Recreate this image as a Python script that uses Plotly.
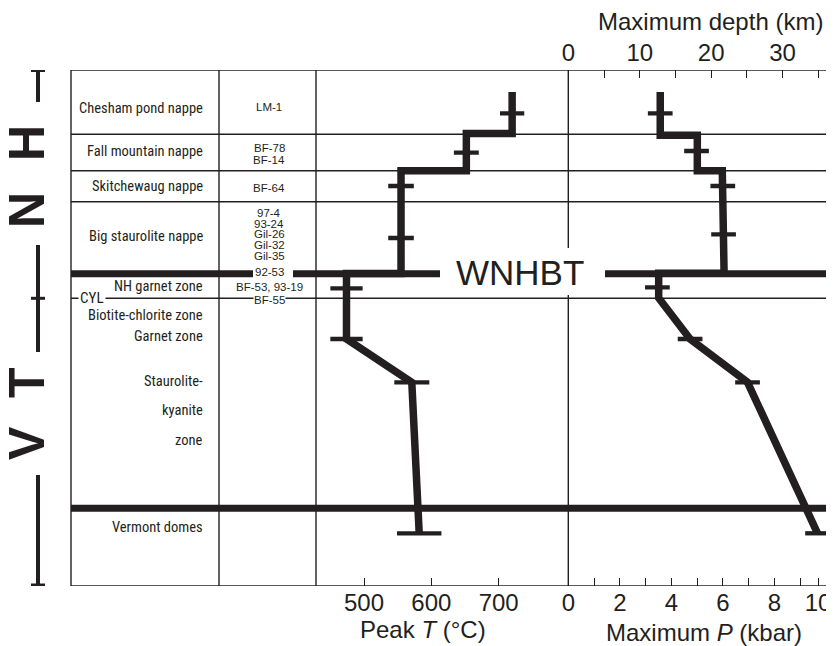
import plotly.graph_objects as go

# ------------------------------------------------------------------ data
# vertical coordinate = structural level, measured downward from top of the column
unit_names = ["Chesham pond nappe", "Fall mountain nappe", "Skitchewaug nappe",
              "Big staurolite nappe", "NH garnet zone", "Biotite-chlorite zone",
              "Garnet zone", "Staurolite-", "kyanite", "zone", "Vermont domes"]
unit_levels = [38.3, 81.7, 116.7, 166, 216.7, 245, 266, 311, 340, 370, 457.7]

sample_names = ["LM-1", "BF-78", "BF-14", "BF-64", "97-4", "93-24", "Gil-26",
                "Gil-32", "Gil-35", "BF-53, 93-19"]
sample_levels = [37.3, 78.3, 90, 118.3, 143, 153.5, 164, 174.5, 185.5, 216.5]
boundary_samples = ["92-53", "BF-55"]
boundary_sample_levels = [201.7, 229.8]

thin_boundaries = [0, 64.3, 100.7, 131.7, 228.3, 516]
thick_boundaries = [203.7, 438.3]   # WNHBT, top of Vermont domes

# Peak T profile (deg C)
t_prof_level = [22, 63.5, 63.5, 100.7, 100.7, 203.5, 203.5, 269, 312.3, 463.3]
t_prof_value = [720, 720, 652, 652, 555, 555, 474, 474, 571, 582]
t_samp_level = [43.3, 82.7, 116, 168, 218.3, 269, 312.3, 463.3]
t_samp_value = [720, 652, 555, 555, 474, 474, 571, 582]
t_samp_err = [18, 18.5, 19, 19, 24, 24, 26, 33]

# Maximum P profile (kbar)
p_prof_level = [22, 65.3, 65.3, 100.7, 100.7, 203.3, 203.3, 228, 269, 312.3, 463.3]
p_prof_value = [3.57, 3.57, 5.01, 5.01, 5.98, 6.05, 3.51, 3.51, 4.73, 6.96, 9.68]
p_samp_level = [43.3, 81, 116, 164.3, 217.3, 269, 312.3, 463.3]
p_samp_value = [3.57, 4.98, 6.0, 6.03, 3.46, 4.73, 6.96, 9.68]
p_samp_err = [0.48, 0.48, 0.48, 0.48, 0.48, 0.48, 0.48, 0.48]

t_ticks = [500, 600, 700]
p_ticks = [0, 1, 2, 3, 4, 5, 6, 7, 8, 9, 9.7]
p_ticklabels = ["0", "", "2", "", "4", "", "6", "", "8", "", "10"]
d_ticks = [0, 5, 10, 15, 20, 25, 30, 35]
d_ticklabels = ["0", "", "10", "", "20", "", "30", ""]

# ------------------------------------------------------------------ geometry helpers
OFF = 8                       # page body margin of the browser
W, H = 834 - OFF, 646 - OFF
L, R, T, B = 71 - OFF, 0, 70 - OFF, 646 - 586
PW = W - L - R
PH = H - T - B


def px(x):          # window pixel x -> paper x
    return (x - OFF - L) / PW


def py(y):          # window pixel y -> paper y
    return (H - B - (y - OFF)) / PH


FONT = "Liberation Sans, Arial, Helvetica, sans-serif"
NARROW = ("Roboto Condensed, Noto Sans ExtraCondensed, Liberation Sans Narrow, "
          "Arial Narrow, DejaVu Sans Condensed, sans-serif")
LC = "#231f20"

fig = go.Figure()

# T profile
fig.add_trace(go.Scatter(x=t_prof_value, y=t_prof_level, mode="lines",
                         line=dict(color=LC, width=7.5), xaxis="x", yaxis="y",
                         hoverinfo="skip"))
fig.add_trace(go.Scatter(x=t_samp_value, y=t_samp_level, mode="markers",
                         marker=dict(size=1, color="rgba(0,0,0,0)"),
                         error_x=dict(type="data", array=t_samp_err, color=LC,
                                      thickness=4.3, width=0),
                         xaxis="x", yaxis="y", hoverinfo="skip"))
# P profile
fig.add_trace(go.Scatter(x=p_prof_value, y=p_prof_level, mode="lines",
                         line=dict(color=LC, width=7.5), xaxis="x2", yaxis="y",
                         hoverinfo="skip"))
fig.add_trace(go.Scatter(x=p_samp_value, y=p_samp_level, mode="markers",
                         marker=dict(size=1, color="rgba(0,0,0,0)"),
                         error_x=dict(type="data", array=p_samp_err, color=LC,
                                      thickness=4.3, width=0),
                         xaxis="x2", yaxis="y", hoverinfo="skip"))
# invisible trace so the depth axis is drawn
fig.add_trace(go.Scatter(x=[0], y=[0], xaxis="x3", yaxis="y", mode="markers",
                         marker=dict(size=1, color="rgba(0,0,0,0)"), hoverinfo="skip"))

shapes = []


def hline(x0, x1, y, w):
    shapes.append(dict(type="line", xref="paper", yref="y", x0=x0, x1=x1, y0=y, y1=y,
                       line=dict(color=LC, width=w)))


def vline(x, y0, y1, w):
    shapes.append(dict(type="line", xref="paper", yref="y", x0=x, x1=x, y0=y0, y1=y1,
                       line=dict(color=LC, width=w)))


for b in thin_boundaries:
    hline(0, 1, b, 1.4)
wn = thick_boundaries[0]
for a, c in [(71, 253), (293, 440), (605, 834)]:
    hline(px(a), px(c), wn, 7)
hline(0, 1, thick_boundaries[1], 7)
for xv in [71, 219, 316]:
    vline(px(xv), 0, 516, 1.4)
for y0, y1 in [(0, 178), (225, 516)]:
    vline(px(568.3), y0, y1, 1.4)
# NH / VT bar
for y0, y1 in [(0, 32), (175, 282), (405, 515)]:
    vline(px(38), y0, y1, 4)
for yc in [0.5, 228.3, 515]:
    hline(px(31), px(45), yc, 3)

ann = []


def text(t, x, y, size, family=FONT, xanchor="center", yref="y", **kw):
    d = dict(text=t, x=x, y=y, xref="paper", yref=yref, showarrow=False,
             xanchor=xanchor, yanchor="middle",
             font=dict(family=family, size=size, color=LC, **kw.pop("fontkw", {})))
    d.update(kw)
    ann.append(d)


for name, lev in zip(sample_names, sample_levels):
    text(name, px(269), lev, 11.5)
text("CYL", px(92), 228.3, 15, family=NARROW, bgcolor="white", borderpad=1)
for name, lev in zip(boundary_samples, boundary_sample_levels):
    text(name, px(269), lev, 11.5, bgcolor="white", borderpad=0)
text("WNHBT", px(520), 202.5, 35, bgcolor="white", borderpad=0)
for name, lev in zip(unit_names, unit_levels):
    text(name, px(205), lev, 14.5, family=NARROW, xanchor="right")
for ch, yc in [("H", 143), ("N", 210), ("T", 383), ("V", 443)]:
    text(ch, px(27), yc - 70, 50, textangle=-90, fontkw=dict(weight="bold"))
text("Maximum depth (km)", px(710), py(21.7), 24, yref="paper")
text("Peak <i>T</i> (°C)", px(423), py(629.5), 24, yref="paper")
text("Maximum <i>P</i> (kbar)", px(704), py(632), 24, yref="paper")

t_lo = 500 - (364 - 316) / 0.6733
t_hi = 500 + (568.3 - 364) / 0.6733
p_hi = (834 - 568.3) / 25.75
d_hi = (834 - 568.3) / 7.143

tickfont = dict(family=FONT, size=24, color=LC)
axcommon = dict(ticks="inside", ticklen=8, tickwidth=1.4, tickcolor=LC, showgrid=False,
                zeroline=False, showline=False, tickfont=tickfont, automargin=False,
                ticklabeloverflow="allow", anchor="y")
fig.update_layout(
    width=W, height=H,
    margin=dict(l=L, r=R, t=T, b=B),
    paper_bgcolor="white", plot_bgcolor="white",
    showlegend=False,
    xaxis=dict(domain=[px(316), px(568.3)], range=[t_lo, t_hi], tickvals=t_ticks, **axcommon),
    xaxis2=dict(domain=[px(568.3), 1], range=[0, p_hi], tickvals=p_ticks,
                ticktext=p_ticklabels, **axcommon),
    xaxis3=dict(overlaying="x2", side="top", range=[0, d_hi], tickvals=d_ticks,
                ticktext=d_ticklabels, ticklabelstandoff=3, **axcommon),
    yaxis=dict(range=[PH, 0], visible=False, fixedrange=True),
    shapes=shapes,
    annotations=ann,
)

fig.write_html("out.html")
